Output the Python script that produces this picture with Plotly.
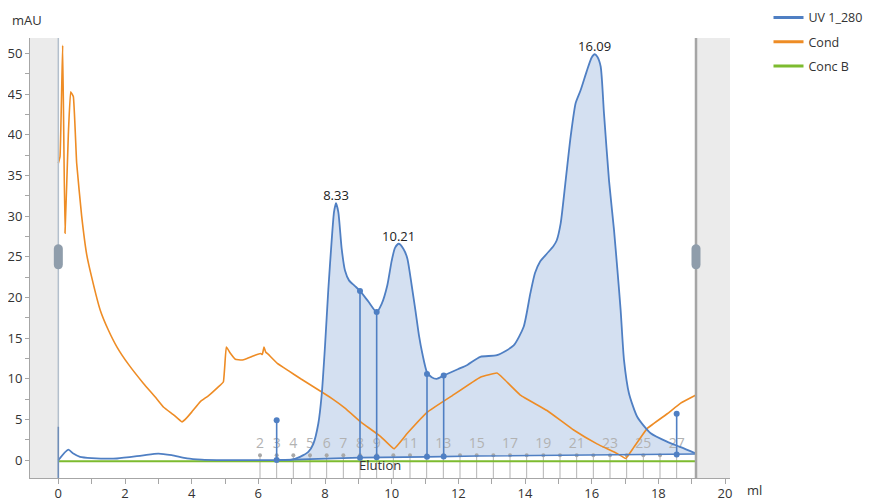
import plotly.graph_objects as go

# ---------------- data ----------------
uv_x = [0, 0.3, 0.45, 0.65, 1.0, 1.76, 2.5, 3.0, 3.4, 3.86, 4.3, 4.76, 6.55, 7.0, 7.25, 7.5, 7.65,
        7.8, 7.9, 8.0, 8.1, 8.2, 8.27, 8.33, 8.4, 8.5, 8.6, 8.72, 8.9, 9.05, 9.3, 9.55, 9.7, 9.87,
        10.0, 10.1, 10.21, 10.35, 10.47, 10.6, 10.72, 10.82, 10.92, 11.06, 11.2, 11.35, 11.56, 12.0,
        12.27, 12.66, 13.16, 13.66, 13.96, 14.16, 14.3, 14.45, 14.66, 14.85, 14.95, 15.07, 15.22,
        15.37, 15.52, 15.67, 15.85, 16.0, 16.09, 16.17, 16.27, 16.37, 16.52, 16.67, 16.77, 16.87,
        16.97, 17.12, 17.37, 17.77, 18.27, 18.67, 19.13]
uv_y = [0, 1.3, 0.8, 0.4, 0.25, 0.2, 0.55, 0.8, 0.6, 0.2, 0.05, 0, 0, 0.05, 0.4, 1.0, 2.0,
        4.5, 8, 14, 21, 27, 30.5, 31.6, 30.5, 26, 23.3, 22.1, 21.4, 20.8, 19.5, 18.2, 19.2, 21.5,
        24.5, 26.1, 26.6, 26, 24.8, 21.5, 18.2, 15.3, 13.1, 10.8, 10.2, 10.0, 10.4, 11.2,
        11.7, 12.7, 12.9, 14.1, 16.4, 20.5, 23, 24.4, 25.4, 26.3, 27, 29.1, 34.4,
        39.8, 43.9, 45.5, 47.8, 49.5, 49.9, 49.6, 48.4, 42.6, 34.4, 28.3, 23.5, 18.4,
        12.3, 8.2, 5.3, 3.3, 2.25, 1.6, 0.8]

cond_x = [0, 0.05, 0.13, 0.2, 0.3, 0.37, 0.45, 0.55, 0.7, 0.85, 1.0, 1.26, 1.5, 1.76, 2.1, 2.56,
          2.9, 3.16, 3.45, 3.71, 3.85, 4.0, 4.26, 4.5, 4.8, 4.95, 5.04, 5.15, 5.31, 5.5, 5.66, 5.9,
          6.07, 6.12, 6.17, 6.22, 6.3, 6.57, 6.9, 7.27, 7.7, 8.2, 8.6, 9.07, 9.2, 9.67, 10.07,
          10.47, 11.07, 11.77, 12.66, 13.16, 13.36, 13.86, 14.66, 15.46, 16.16, 16.77, 17.02,
          17.27, 17.67, 18.27, 18.67, 19.13]
cond_y = [36.5, 37.3, 51.0, 27.9, 40, 45.3, 44.7, 36.5, 30, 25.3, 22.5, 18.4, 16, 13.9, 11.8, 9.4,
          7.8, 6.5, 5.6, 4.7, 5.2, 5.9, 7.2, 7.9, 9.0, 9.6, 13.9, 13.2, 12.4, 12.3, 12.5, 12.9,
          13.1, 13.0, 13.9, 13.3, 13.0, 11.9, 11.0, 10.0, 8.9, 7.6, 6.4, 4.7, 4.3, 2.9, 1.4,
          3.3, 5.9, 7.8, 10.2, 10.7, 10.0, 8.0, 6.1, 3.7, 2.0, 0.8, 0.2,
          1.6, 3.9, 5.7, 7.0, 8.0]

concb_x = [0, 19.13]
concb_y = [-0.15, -0.15]

# peak baseline and fill window
base_x = [6.55, 9.05, 11.06, 12.56, 19.13]
base_y = [0, 0.3, 0.4, 0.5, 0.75]

# fraction marks
frac_num = list(range(2, 28))
frac_x = [5.05 + 0.5 * n for n in frac_num]
frac_labels = ["2", "3", "4", "5", "6", "7", "8", "9", "", "11", "", "13", "", "15", "", "17", "",
               "19", "", "21", "", "23", "", "25", "", "27"]

# peak limits (stems)
stem_x = [6.55, 9.05, 9.55, 11.06, 11.56, 18.55]
stem_top = [4.9, 20.8, 18.2, 10.6, 10.4, 5.7]
stem_bot = [0, 0.3, 0.35, 0.4, 0.45, 0.7]

peak_x = [8.33, 10.21, 16.09]
peak_y = [31.6, 26.6, 49.9]
peak_text = ["8.33", "10.21", "16.09"]

# ---------------- styling ----------------
BLUE = "#4f7fc3"
FILL = "rgba(120,160,210,0.32)"
ORANGE = "#ee8c25"
GREEN = "#7dbb2f"
FONT = "Open Sans"

fig = go.Figure()

# fill under UV between run limits
fx = [x for x in uv_x if base_x[0] <= x <= base_x[-1]]
fy = [y for x, y in zip(uv_x, uv_y) if base_x[0] <= x <= base_x[-1]]
fig.add_trace(go.Scatter(x=base_x, y=base_y, mode="lines", line=dict(width=0, color=BLUE),
                         showlegend=False, hoverinfo="skip"))
fig.add_trace(go.Scatter(x=fx, y=fy, mode="lines", line=dict(width=0, color=BLUE, shape="spline", smoothing=0.6),
                         fill="tonexty", fillcolor=FILL, showlegend=False, hoverinfo="skip"))

# fraction lines
lx, ly = [], []
for x in frac_x:
    lx += [x, x, None]
    ly += [0.6, -2.2, None]
fig.add_trace(go.Scatter(x=lx, y=ly, mode="lines", line=dict(color="#b4b4b4", width=1),
                         showlegend=False, hoverinfo="skip"))
fig.add_trace(go.Scatter(x=frac_x, y=[0.6] * len(frac_x), mode="markers+text",
                         marker=dict(color="#a8a8a8", size=4),
                         text=frac_labels, textposition="top center",
                         textfont=dict(family=FONT, size=14, color="#b2b2b2"),
                         showlegend=False, hoverinfo="skip"))

# Cond
fig.add_trace(go.Scatter(x=cond_x, y=cond_y, mode="lines", name="Cond",
                         line=dict(color=ORANGE, width=1.6, shape="spline", smoothing=0.3), showlegend=False))
# Conc B
fig.add_trace(go.Scatter(x=concb_x, y=concb_y, mode="lines", name="Conc B",
                         line=dict(color=GREEN, width=2), showlegend=False))
# baseline
fig.add_trace(go.Scatter(x=base_x, y=base_y, mode="lines", line=dict(color=BLUE, width=1.6),
                         showlegend=False, hoverinfo="skip"))
# UV
fig.add_trace(go.Scatter(x=uv_x, y=uv_y, mode="lines", name="UV 1_280",
                         line=dict(color=BLUE, width=1.8, shape="spline", smoothing=0.6), showlegend=False))

# stems
sx, sy = [], []
for x, t, b in zip(stem_x, stem_top, stem_bot):
    sx += [x, x, None]
    sy += [b, t, None]
fig.add_trace(go.Scatter(x=sx, y=sy, mode="lines+markers", line=dict(color=BLUE, width=1.6),
                         marker=dict(color=BLUE, size=6), showlegend=False, hoverinfo="skip"))

# peak labels
fig.add_trace(go.Scatter(x=peak_x, y=peak_y, mode="text", text=peak_text, textposition="top center",
                         textfont=dict(family=FONT, size=13, color="#222"), showlegend=False))

# legend entries
for nm, col, rk in [("UV 1_280", BLUE, 1), ("Cond", ORANGE, 2), ("Conc B", GREEN, 3)]:
    fig.add_trace(go.Scatter(x=[None], y=[None], mode="lines", name=nm, legendrank=rk,
                             legendgroup=nm, line=dict(color=col, width=3)))

shapes = [
    dict(type="rect", xref="x", yref="paper", x0=-0.85, x1=0, y0=0, y1=1,
         fillcolor="#ebebeb", line=dict(width=0), layer="below"),
    dict(type="rect", xref="x", yref="paper", x0=19.13, x1=20.15, y0=0, y1=1,
         fillcolor="#ebebeb", line=dict(width=0), layer="below"),
    dict(type="line", xref="x", yref="paper", x0=0, x1=0, y0=0, y1=1,
         line=dict(color="#b3bfcc", width=1.5)),
    dict(type="line", xref="x", yref="y", x0=0, x1=0, y0=-2.2, y1=4.1,
         line=dict(color="#6f8db8", width=1.5)),
    dict(type="line", xref="x", yref="paper", x0=19.13, x1=19.13, y0=0, y1=1,
         line=dict(color="#a5a5a5", width=2.5)),
]
pill = "M -4.5,-8 L -4.5,8 C -4.5,14 4.5,14 4.5,8 L 4.5,-8 C 4.5,-14 -4.5,-14 -4.5,-8 Z"
for hx in [0, 19.13]:
    shapes.append(dict(type="path", xref="x", yref="y", xsizemode="pixel", ysizemode="pixel",
                       xanchor=hx, yanchor=25, path=pill, fillcolor="#8f9dab",
                       line=dict(width=0)))

fig.update_layout(
    width=868, height=493,
    margin=dict(l=22, r=146, t=30, b=23, autoexpand=False),
    paper_bgcolor="white", plot_bgcolor="white",
    font=dict(family=FONT, size=13, color="#333"),
    shapes=shapes,
    showlegend=True,
    legend=dict(x=1.055, y=1.08, xanchor="left", yanchor="top", tracegroupgap=5,
                font=dict(family=FONT, size=12.5, color="#333"), bgcolor="rgba(0,0,0,0)"),
    annotations=[
        dict(text="mAU", xref="paper", yref="paper", x=-0.029, y=1.04, xanchor="left",
             yanchor="middle", showarrow=False, font=dict(size=13, color="#333")),
        dict(text="ml", xref="paper", yref="paper", x=1.021, y=-0.027, xanchor="left",
             yanchor="middle", showarrow=False, font=dict(size=13, color="#333")),
        dict(text="Elution", xref="x", yref="y", x=9.66, y=-0.6, showarrow=False,
             font=dict(size=13, color="#333")),
    ],
)
fig.update_xaxes(range=[-0.85, 20.15], tickvals=list(range(0, 21, 2)), showline=True,
                 linecolor="#a6a6a6", linewidth=1, ticks="outside", ticklen=5, tickcolor="#a6a6a6",
                 minor=dict(dtick=1, tick0=0, ticks="outside", ticklen=5, tickcolor="#a6a6a6"),
                 showgrid=False, zeroline=False, automargin=False, ticklabelstandoff=-2,
                 tickfont=dict(size=13, color="#333"))
fig.update_yaxes(range=[-2.2, 51.9], tick0=0, dtick=5, showline=True, linecolor="#a6a6a6",
                 linewidth=1, ticks="outside", ticklen=4, tickcolor="#a6a6a6",
                 minor=dict(dtick=2.5, tick0=0, ticks="outside", ticklen=4, tickcolor="#a6a6a6"),
                 showgrid=False, zeroline=False, automargin=False,
                 tickfont=dict(size=13, color="#333"))

fig.write_html("out.html")
